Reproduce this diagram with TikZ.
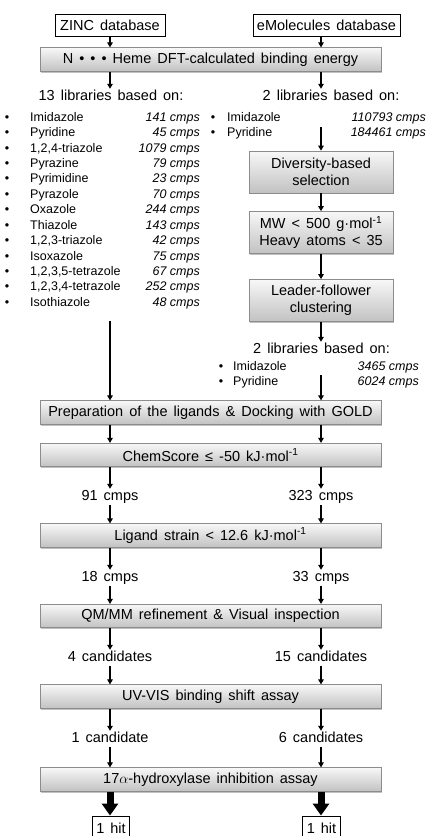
\documentclass[tikz,border=0pt]{standalone}
\usepackage{fontspec}
\setmainfont{Liberation Sans}[WordSpace=1.5]
\newfontfamily\listfont{Liberation Sans}
\usetikzlibrary{arrows.meta,shadows,calc}
\tikzset{
  bigfont/.style={font=\fontsize{14.5}{17}\selectfont},
  graybox/.style={draw=black!45, line width=0.7pt, top color=black!3, bottom color=black!24,
    drop shadow={shadow xshift=1.3pt, shadow yshift=-1.3pt, opacity=0.35, fill=black!70},
    minimum width=341pt, minimum height=23.5pt, inner sep=0pt, bigfont},
  sidebox/.style={graybox, minimum width=144pt, minimum height=42pt, align=center},
  whitebox/.style={draw=black, line width=0.9pt, fill=white, minimum height=22pt, inner xsep=4pt, bigfont},
  lbl/.style={bigfont, inner sep=1.5pt, text height=10pt, text depth=3pt},
  itm/.style={font=\listfont\fontsize{12.5}{14}\selectfont, inner sep=0pt, text height=9pt, text depth=2.5pt},
  arr/.style={-{Triangle[length=5pt,width=5.5pt]}, line width=1.1pt},
  fatarr/.style={-{Triangle[length=12pt,width=16pt]}, line width=7pt},
}
\begin{document}
\begin{tikzpicture}[x=1pt,y=-1pt]
\useasboundingbox (0,0) rectangle (427,836);
\coordinate (L) at (110,0);
\coordinate (R) at (321,0);

% top boxes
\node[whitebox, minimum width=110pt] (zinc) at (110,25) {ZINC database};
\node[whitebox, minimum width=147pt] (emol) at (326.5,25) {eMolecules database};
\node[graybox] (heme) at (210.5,59.5) {N • • • Heme DFT-calculated binding energy};
\draw[arr] (zinc.south -| L) -- (heme.north -| L);
\draw[arr] (emol.south -| R) -- (heme.north -| R);

% library headers
\node[lbl] (lib13) at (111,97) {13 libraries based on:};
\node[lbl] (lib2) at (331,97) {2 libraries based on:};
\draw[arr] (heme.south -| L) -- (lib13.north -| L);
\draw[arr] (heme.south -| R) -- (lib2.north -| R);

% left list
\foreach \nm/\ct [count=\i from 0] in {Imidazole/141, Pyridine/45, {1,2,4-triazole}/1079, Pyrazine/79,
  Pyrimidine/23, Pyrazole/70, Oxazole/244, Thiazole/143, {1,2,3-triazole}/42, Isoxazole/75,
  {1,2,3,5-tetrazole}/67, {1,2,3,4-tetrazole}/252, Isothiazole/48}{
  \node[itm] (lb\i) at (7,{118+15.42*\i}) {•};
  \node[itm, anchor=west] (ln\i) at (30,{118+15.42*\i}) {\nm};
  \node[itm, anchor=east] (lc\i) at (200,{118+15.42*\i}) {\itshape \ct{} cmps};
}

% right list (top)
\node[itm] (rb0) at (213,118) {•};
\node[itm, anchor=west] (rn0) at (227,118) {Imidazole};
\node[itm, anchor=east] (rc0) at (426,118) {\itshape 110793 cmps};
\node[itm] (rb1) at (213,133.4) {•};
\node[itm, anchor=west] (rn1) at (227,133.4) {Pyridine};
\node[itm, anchor=east] (rc1) at (426,133.4) {\itshape 184461 cmps};

% right side boxes
\coordinate (divin) at (321,127);
\node[sidebox] (div) at (321,172) {Diversity-based\\selection};
\node[sidebox] (mw) at (321,232.5) {MW < 500 g·mol\textsuperscript{-1}\\Heavy atoms < 35};
\node[sidebox] (lead) at (321,300.5) {Leader-follower\\clustering};
\draw[arr] (divin) -- (div.north -| R);
\draw[arr] (div.south -| R) -- (mw.north -| R);
\draw[arr] (mw.south -| R) -- (lead.north -| R);

\node[lbl] (lib2b) at (321.5,350) {2 libraries based on:};
\draw[arr] (lead.south -| R) -- (lib2b.north -| R);
\node[itm] (sb0) at (221,367) {•};
\node[itm, anchor=west] (sn0) at (233,367) {Imidazole};
\node[itm, anchor=east] (sc0) at (419,367) {\itshape 3465 cmps};
\node[itm] (sb1) at (221,382.4) {•};
\node[itm, anchor=west] (sn1) at (233,382.4) {Pyridine};
\node[itm, anchor=east] (sc1) at (419,382.4) {\itshape 6024 cmps};

% main column
\coordinate (leftin) at (110,321);
\coordinate (rightin) at (321,375);
\node[graybox] (prep) at (210.5,412.5) {Preparation of the ligands \& Docking with GOLD};
\draw[arr] (leftin) -- (prep.north -| L);
\draw[arr] (rightin) -- (prep.north -| R);

\node[graybox] (chem) at (210.5,455) {ChemScore ≤ -50 kJ·mol\textsuperscript{-1}};
\draw[arr] (prep.south -| L) -- (chem.north -| L);
\draw[arr] (prep.south -| R) -- (chem.north -| R);

\node[lbl] (c91) at (110,497) {91 cmps};
\node[lbl] (c323) at (321,497) {323 cmps};
\draw[arr] (chem.south -| L) -- (c91.north -| L);
\draw[arr] (chem.south -| R) -- (c323.north -| R);

\node[graybox] (strain) at (210.5,535.5) {Ligand strain < 12.6 kJ·mol\textsuperscript{-1}};
\draw[arr] (c91.south -| L) -- (strain.north -| L);
\draw[arr] (c323.south -| R) -- (strain.north -| R);

\node[lbl] (c18) at (110,578) {18 cmps};
\node[lbl] (c33) at (321,578) {33 cmps};
\draw[arr] (strain.south -| L) -- (c18.north -| L);
\draw[arr] (strain.south -| R) -- (c33.north -| R);

\node[graybox] (qm) at (210.5,616) {QM/MM refinement \& Visual inspection};
\draw[arr] (c18.south -| L) -- (qm.north -| L);
\draw[arr] (c33.south -| R) -- (qm.north -| R);

\node[lbl] (k4) at (110,658) {4 candidates};
\node[lbl] (k15) at (321,658) {15 candidates};
\draw[arr] (qm.south -| L) -- (k4.north -| L);
\draw[arr] (qm.south -| R) -- (k15.north -| R);

\node[graybox] (uv) at (210.5,696.5) {UV-VIS binding shift assay};
\draw[arr] (k4.south -| L) -- (uv.north -| L);
\draw[arr] (k15.south -| R) -- (uv.north -| R);

\node[lbl] (k1) at (110,739) {1 candidate};
\node[lbl] (k6) at (321,739) {6 candidates};
\draw[arr] (uv.south -| L) -- (k1.north -| L);
\draw[arr] (uv.south -| R) -- (k6.north -| R);

\node[graybox] (hyd) at (210.5,779.5) {17$\alpha$-hydroxylase inhibition assay};
\draw[arr] (k1.south -| L) -- (hyd.north -| L);
\draw[arr] (k6.south -| R) -- (hyd.north -| R);

\node[whitebox, minimum height=24pt] (hitL) at (111,828) {1 hit};
\node[whitebox, minimum height=24pt] (hitR) at (321.5,828) {1 hit};
\draw[fatarr] (hyd.south -| L) -- (hitL.north -| L);
\draw[fatarr] (hyd.south -| R) -- (hitR.north -| R);
\end{tikzpicture}
\end{document}
